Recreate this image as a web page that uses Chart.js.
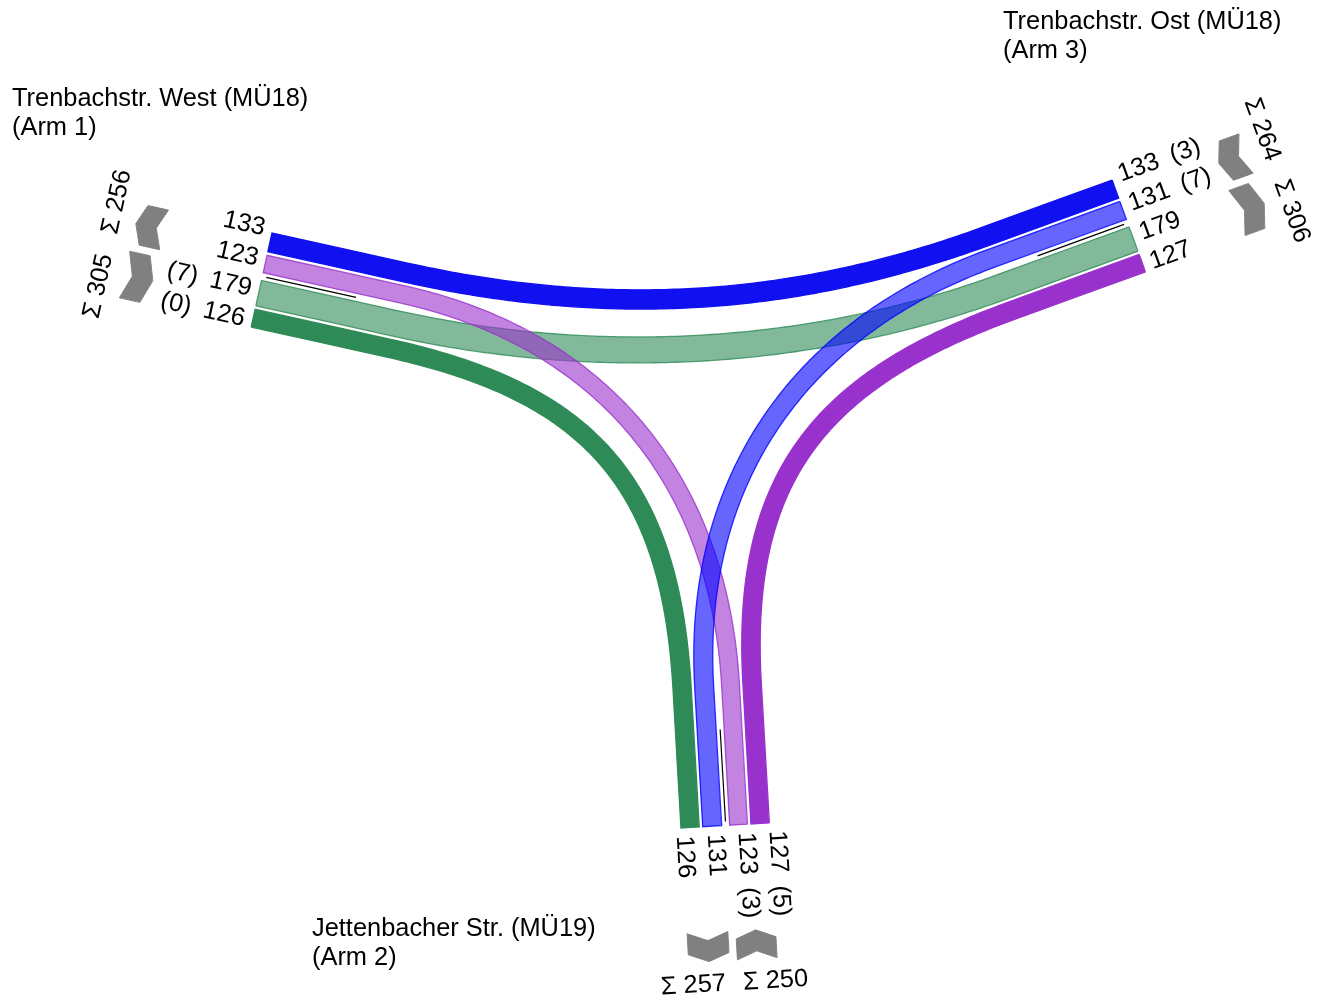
<!DOCTYPE html>
<html>
<head>
<meta charset="utf-8">
<title>Knotenstrom</title>
<script src="https://cdn.jsdelivr.net/npm/chart.js@4.4.0/dist/chart.umd.min.js"></script>
<style>
  html, body { margin: 0; padding: 0; background: #fff; }
  #wrap { position: relative; width: 1325px; height: 999px; }
</style>
</head>
<body>
<div id="wrap"><canvas id="flowChart"></canvas></div>
<script>
// arms: 0 = West (Arm 1), 1 = Jettenbacher Str. (Arm 2), 2 = Ost (Arm 3)
const armNames = ['Trenbachstr. West (MÜ18)', 'Jettenbacher Str. (MÜ19)', 'Trenbachstr. Ost (MÜ18)'];
const armNumbers = ['(Arm 1)', '(Arm 2)', '(Arm 3)'];

// turning flows: origin arm, destination arm, vehicles, heavy vehicles
const flowFrom = [2, 1, 0, 0, 2, 1];
const flowTo = [0, 0, 2, 1, 1, 2];
const flowValues = [133, 123, 179, 126, 131, 127];
const heavyValues = [3, 3, 7, 0, 7, 5];

const flowColors = ['#1010f0', '#9932cc', '#2e8b57', '#2e8b57', '#0000ff', '#9932cc'];
const flowLight = [false, true, true, false, true, false];
const flowLayer = [10, 6, 8, 10, 4, 10];

// layout of the arms (outer end of the first lane, outward direction in degrees)
const arms = [
  { x: 272, y: 233, angle: 192.5, lanes: [[0, 1], [2, 3]], title: [12, 106] },
  { x: 681, y: 828, angle: 86.7, lanes: [[3, 4], [1, 5]], title: [312, 936] },
  { x: 1145.5, y: 271.8, angle: -20, lanes: [[5, 2], [4, 0]], title: [1003, 29] }
];

const BAND_SCALE = 0.145;
const LANE_GAP = 3.5;
const GROUP_GAP = 8;
const STRAIGHT = 140;
const HANDLE = 205;
const LABEL_STEP = 31;
const LABEL_LIFT = 4.5;
const FONT = '25.4px "Liberation Sans", Arial, sans-serif';

arms.forEach(arm => {
  const r = arm.angle * Math.PI / 180;
  arm.u = { x: Math.cos(r), y: Math.sin(r) };
  arm.v = { x: arm.u.y, y: -arm.u.x };
  arm.slots = {};
  arm.groups = [];
  let b = 0;
  arm.lanes.forEach((grp, gi) => {
    if (gi > 0) b += GROUP_GAP;
    const g0 = b;
    grp.forEach((f, j) => {
      if (j > 0) b += LANE_GAP;
      const w = flowValues[f] * BAND_SCALE;
      arm.slots[f] = b + w / 2;
      b += w;
    });
    arm.groups.push([g0, b]);
  });
  arm.width = b;
});

function pt(arm, a, b) {
  return { x: arm.x + a * arm.u.x + b * arm.v.x, y: arm.y + a * arm.u.y + b * arm.v.y };
}

function bandPolygon(f) {
  const A = arms[flowFrom[f]], B = arms[flowTo[f]];
  const bA = A.slots[f], bB = B.slots[f];
  const p1 = pt(A, -STRAIGHT, bA), c1 = pt(A, -STRAIGHT - HANDLE, bA);
  const c2 = pt(B, -STRAIGHT - HANDLE, bB), p2 = pt(B, -STRAIGHT, bB);
  const line = [pt(A, 0, bA)];
  const n = 60;
  for (let i = 0; i <= n; i++) {
    const t = i / n, s = 1 - t;
    line.push({
      x: s * s * s * p1.x + 3 * s * s * t * c1.x + 3 * s * t * t * c2.x + t * t * t * p2.x,
      y: s * s * s * p1.y + 3 * s * s * t * c1.y + 3 * s * t * t * c2.y + t * t * t * p2.y
    });
  }
  line.push(pt(B, 0, bB));
  const half = flowValues[f] * BAND_SCALE / 2;
  const left = [], right = [];
  line.forEach((p, i) => {
    const q0 = line[Math.max(0, i - 1)], q1 = line[Math.min(line.length - 1, i + 1)];
    const dx = q1.x - q0.x, dy = q1.y - q0.y, len = Math.hypot(dx, dy);
    const nx = -dy / len, ny = dx / len;
    left.push({ x: p.x + nx * half, y: p.y + ny * half });
    right.push({ x: p.x - nx * half, y: p.y - ny * half });
  });
  return left.concat(right.reverse(), [left[0]]);
}

function chevron(arm, gi) {
  const [b0, b1] = arm.groups[gi];
  const bm = (b0 + b1) / 2;
  const A0 = 106, t = 21, d = 8;
  const pts = gi === 0
    ? [[A0, b0], [A0 + t, b0], [A0 + t + d, bm], [A0 + t, b1], [A0, b1], [A0 + d, bm], [A0, b0]]
    : [[A0 + d, b0], [A0 + t + d, b0], [A0 + t, bm], [A0 + t + d, b1], [A0 + d, b1], [A0, bm], [A0 + d, b0]];
  return pts.map(p => pt(arm, p[0], p[1]));
}

// a tiny tension keeps Chart.js off its x-sorted fast path, so near-vertical edges stay clean
const datasets = [];
flowValues.forEach((val, f) => {
  const c = flowColors[f];
  datasets.push({
    data: bandPolygon(f),
    fill: 'shape',
    backgroundColor: flowLight[f] ? c + '99' : c,
    borderColor: flowLight[f] ? c + 'cc' : c,
    borderWidth: 1.3,
    pointRadius: 0,
    tension: 0.0001,
    clip: false,
    order: flowLayer[f]
  });
});
arms.forEach(arm => {
  [0, 1].forEach(gi => {
    datasets.push({
      data: chevron(arm, gi),
      fill: 'shape',
      backgroundColor: '#808080',
      borderColor: '#808080',
      borderWidth: 1,
      pointRadius: 0,
      tension: 0.0001,
      clip: false,
      order: 2
    });
  });
  const bGap = (arm.groups[0][1] + arm.groups[1][0]) / 2;
  datasets.push({
    data: [pt(arm, -4, bGap), pt(arm, -96, bGap)],
    fill: false,
    borderColor: '#000',
    borderWidth: 1.2,
    pointRadius: 0,
    tension: 0.0001,
    clip: false,
    order: 1
  });
});

const textPlugin = {
  id: 'flowText',
  afterDatasetsDraw(chart) {
    const { ctx, scales: { x: xs, y: ys } } = chart;
    const P = p => ({ x: xs.getPixelForValue(p.x), y: ys.getPixelForValue(p.y) });
    const rotText = (str, p, dir, align) => {
      const q = P(p);
      ctx.save();
      ctx.translate(q.x, q.y);
      ctx.rotate(Math.atan2(dir.y, dir.x));
      ctx.textAlign = align;
      ctx.textBaseline = 'middle';
      ctx.fillText(str, 0, 0);
      ctx.restore();
    };
    ctx.save();
    ctx.fillStyle = '#000';
    ctx.font = FONT;
    arms.forEach((arm, i) => {
      const t = P({ x: arm.title[0], y: arm.title[1] });
      ctx.textAlign = 'left';
      ctx.textBaseline = 'alphabetic';
      ctx.fillText(armNames[i], t.x, t.y);
      ctx.fillText(armNumbers[i], t.x, t.y + 29);

      const out = arm.u.x >= 0;
      const along = out ? arm.u : { x: -arm.u.x, y: -arm.u.y };
      const across = arm.v.x >= 0 ? arm.v : { x: -arm.v.x, y: -arm.v.y };
      // labels spread evenly across the arm, lifted towards the glyph tops
      const lift = (along.y * arm.v.x - along.x * arm.v.y) >= 0 ? LABEL_LIFT : -LABEL_LIFT;
      let k = 0;
      arm.lanes.forEach((grp, gi) => {
        grp.forEach(f => {
          const lb = arm.width / 2 + (k - 1.5) * LABEL_STEP + lift;
          rotText(String(flowValues[f]), pt(arm, 8, lb), along, out ? 'left' : 'right');
          if (gi === 1) {
            rotText('(' + heavyValues[f] + ')', pt(arm, 63, lb), along, out ? 'left' : 'right');
          }
          k++;
        });
        const total = grp.reduce((s, f) => s + flowValues[f], 0);
        const [g0, g1] = arm.groups[gi];
        rotText('\u03a3 ' + total, pt(arm, 158, (g0 + g1) / 2 + (gi === 0 ? -17 : 17)), across, 'center');
      });
    });
    ctx.restore();
  }
};

new Chart(document.getElementById('flowChart'), {
  type: 'line',
  data: { datasets },
  options: {
    responsive: true,
    maintainAspectRatio: false,
    animation: false,
    events: [],
    layout: { padding: 0 },
    plugins: { legend: { display: false }, tooltip: { enabled: false } },
    scales: {
      x: { type: 'linear', min: 0, max: 1325, display: false },
      y: { type: 'linear', min: 0, max: 999, reverse: true, display: false }
    }
  },
  plugins: [textPlugin]
});
</script>
</body>
</html>
